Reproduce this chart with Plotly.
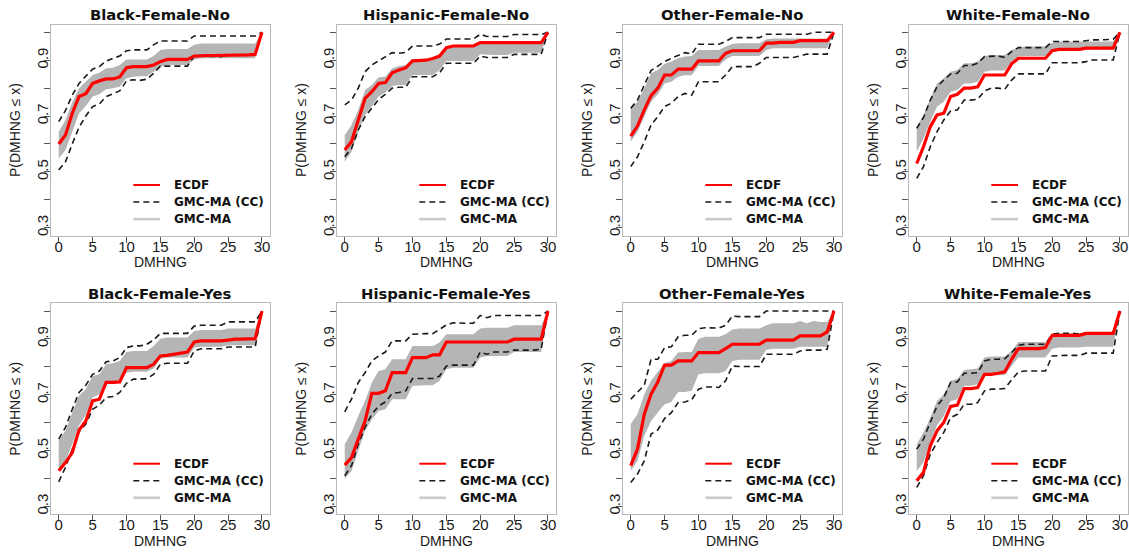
import plotly.graph_objects as go
from plotly.subplots import make_subplots

# DMHNG support: 0..30 days
DMHNG = list(range(31))

# ---------------- Black-Female-No ----------------
BLACK_NO_ECDF = [0.600, 0.632, 0.710, 0.770, 0.780, 0.817, 0.826, 0.833, 0.833, 0.840,
                 0.873, 0.877, 0.877, 0.877, 0.883, 0.895, 0.903, 0.903, 0.903, 0.903,
                 0.915, 0.917, 0.917, 0.917, 0.917, 0.919, 0.919, 0.919, 0.919, 0.921, 1.0]
BLACK_NO_CC_HI = [0.680, 0.720, 0.775, 0.817, 0.843, 0.868, 0.877, 0.897, 0.907, 0.915,
                  0.934, 0.937, 0.937, 0.937, 0.955, 0.969, 0.969, 0.969, 0.969, 0.969,
                  0.987, 0.987, 0.987, 0.987, 0.987, 0.987, 0.987, 0.987, 0.987, 0.987, 1.0]
BLACK_NO_CC_LO = [0.507, 0.536, 0.600, 0.660, 0.700, 0.734, 0.743, 0.770, 0.780, 0.790,
                  0.826, 0.830, 0.828, 0.832, 0.853, 0.879, 0.879, 0.879, 0.879, 0.879,
                  0.915, 0.915, 0.915, 0.915, 0.913, 0.919, 0.919, 0.919, 0.919, 0.919, 1.0]
BLACK_NO_MA_HI = [0.644, 0.686, 0.750, 0.800, 0.823, 0.847, 0.855, 0.871, 0.873, 0.883,
                  0.903, 0.903, 0.903, 0.903, 0.915, 0.937, 0.940, 0.940, 0.940, 0.940,
                  0.955, 0.960, 0.960, 0.960, 0.960, 0.960, 0.960, 0.960, 0.960, 0.960, 1.0]
BLACK_NO_MA_LO = [0.548, 0.578, 0.644, 0.710, 0.736, 0.770, 0.778, 0.796, 0.800, 0.805,
                  0.835, 0.841, 0.843, 0.843, 0.859, 0.877, 0.883, 0.883, 0.883, 0.883,
                  0.903, 0.907, 0.907, 0.907, 0.907, 0.907, 0.907, 0.907, 0.907, 0.907, 1.0]

# ---------------- Hispanic-Female-No ----------------
HISP_NO_ECDF = [0.578, 0.608, 0.686, 0.763, 0.787, 0.817, 0.820, 0.855, 0.865, 0.873,
                0.898, 0.898, 0.900, 0.906, 0.915, 0.945, 0.951, 0.951, 0.951, 0.951,
                0.963, 0.963, 0.963, 0.963, 0.963, 0.963, 0.963, 0.963, 0.963, 0.963, 1.0]
HISP_NO_CC_HI = [0.740, 0.757, 0.800, 0.859, 0.883, 0.897, 0.910, 0.927, 0.925, 0.928,
                 0.951, 0.951, 0.951, 0.951, 0.958, 0.976, 0.976, 0.976, 0.976, 0.976,
                 0.993, 0.985, 0.985, 0.985, 0.985, 0.992, 0.992, 0.992, 0.992, 0.992, 1.0]
HISP_NO_CC_LO = [0.554, 0.584, 0.650, 0.698, 0.728, 0.760, 0.778, 0.800, 0.803, 0.803,
                 0.841, 0.841, 0.841, 0.841, 0.855, 0.889, 0.889, 0.889, 0.889, 0.889,
                 0.915, 0.910, 0.910, 0.910, 0.910, 0.921, 0.921, 0.921, 0.921, 0.921, 1.0]
HISP_NO_MA_HI = [0.632, 0.668, 0.722, 0.793, 0.811, 0.839, 0.841, 0.871, 0.879, 0.883,
                 0.903, 0.903, 0.903, 0.903, 0.919, 0.949, 0.955, 0.955, 0.955, 0.955,
                 0.967, 0.967, 0.967, 0.967, 0.967, 0.967, 0.967, 0.967, 0.967, 0.967, 1.0]
HISP_NO_MA_LO = [0.536, 0.572, 0.644, 0.704, 0.734, 0.770, 0.784, 0.808, 0.811, 0.811,
                 0.847, 0.847, 0.847, 0.847, 0.865, 0.897, 0.897, 0.897, 0.897, 0.897,
                 0.921, 0.919, 0.919, 0.919, 0.919, 0.927, 0.927, 0.927, 0.927, 0.927, 1.0]

# ---------------- Other-Female-No ----------------
OTHER_NO_ECDF = [0.628, 0.664, 0.722, 0.773, 0.800, 0.847, 0.847, 0.868, 0.868, 0.868,
                 0.898, 0.898, 0.898, 0.898, 0.925, 0.934, 0.934, 0.934, 0.934, 0.934,
                 0.961, 0.961, 0.964, 0.964, 0.964, 0.970, 0.970, 0.970, 0.970, 0.970, 1.0]
OTHER_NO_CC_HI = [0.728, 0.757, 0.811, 0.863, 0.879, 0.895, 0.907, 0.916, 0.927, 0.922,
                  0.957, 0.957, 0.957, 0.957, 0.967, 0.981, 0.981, 0.981, 0.981, 0.981,
                  0.993, 0.993, 0.993, 0.993, 0.993, 0.993, 0.993, 1.000, 1.000, 1.000, 1.0]
OTHER_NO_CC_LO = [0.519, 0.554, 0.608, 0.668, 0.698, 0.734, 0.746, 0.770, 0.781, 0.775,
                  0.823, 0.823, 0.823, 0.823, 0.847, 0.877, 0.877, 0.877, 0.877, 0.889,
                  0.910, 0.910, 0.910, 0.910, 0.910, 0.915, 0.922, 0.922, 0.922, 0.922, 1.0]
OTHER_NO_MA_HI = [0.728, 0.751, 0.800, 0.853, 0.865, 0.887, 0.895, 0.907, 0.913, 0.915,
                  0.937, 0.937, 0.937, 0.937, 0.949, 0.958, 0.961, 0.961, 0.961, 0.961,
                  0.975, 0.978, 0.978, 0.978, 0.978, 0.978, 0.978, 0.978, 0.978, 0.978, 1.0]
OTHER_NO_MA_LO = [0.608, 0.644, 0.698, 0.751, 0.778, 0.817, 0.823, 0.841, 0.846, 0.846,
                  0.879, 0.879, 0.879, 0.879, 0.903, 0.915, 0.915, 0.915, 0.915, 0.915,
                  0.937, 0.943, 0.943, 0.943, 0.943, 0.943, 0.943, 0.943, 0.943, 0.943, 1.0]

# ---------------- White-Female-No ----------------
WHITE_NO_ECDF = [0.530, 0.590, 0.662, 0.704, 0.710, 0.770, 0.778, 0.800, 0.800, 0.805,
                 0.847, 0.847, 0.847, 0.847, 0.887, 0.907, 0.907, 0.907, 0.907, 0.907,
                 0.934, 0.939, 0.939, 0.939, 0.939, 0.943, 0.943, 0.943, 0.943, 0.943, 1.0]
WHITE_NO_CC_HI = [0.656, 0.695, 0.757, 0.805, 0.829, 0.851, 0.853, 0.881, 0.881, 0.889,
                  0.913, 0.915, 0.915, 0.910, 0.931, 0.945, 0.945, 0.945, 0.945, 0.945,
                  0.967, 0.967, 0.967, 0.967, 0.967, 0.970, 0.973, 0.973, 0.973, 0.975, 1.0]
WHITE_NO_CC_LO = [0.477, 0.519, 0.590, 0.644, 0.686, 0.718, 0.722, 0.757, 0.757, 0.760,
                  0.790, 0.800, 0.800, 0.796, 0.829, 0.851, 0.851, 0.851, 0.851, 0.851,
                  0.891, 0.891, 0.891, 0.891, 0.891, 0.895, 0.901, 0.901, 0.901, 0.901, 1.0]
WHITE_NO_MA_HI = [0.662, 0.704, 0.763, 0.817, 0.835, 0.859, 0.865, 0.889, 0.889, 0.895,
                  0.915, 0.919, 0.919, 0.919, 0.937, 0.945, 0.949, 0.949, 0.949, 0.949,
                  0.963, 0.967, 0.967, 0.967, 0.967, 0.967, 0.967, 0.967, 0.967, 0.967, 1.0]
WHITE_NO_MA_LO = [0.572, 0.620, 0.680, 0.734, 0.751, 0.787, 0.793, 0.817, 0.817, 0.823,
                  0.859, 0.863, 0.863, 0.863, 0.895, 0.913, 0.915, 0.915, 0.915, 0.915,
                  0.937, 0.939, 0.939, 0.939, 0.939, 0.939, 0.939, 0.939, 0.939, 0.939, 1.0]

# ---------------- Black-Female-Yes ----------------
BLACK_YES_ECDF = [0.428, 0.457, 0.493, 0.574, 0.606, 0.678, 0.684, 0.744, 0.744, 0.746,
                  0.797, 0.797, 0.797, 0.797, 0.809, 0.839, 0.841, 0.845, 0.849, 0.853,
                  0.889, 0.893, 0.893, 0.893, 0.893, 0.896, 0.899, 0.899, 0.899, 0.901, 1.0]
BLACK_YES_CC_HI = [0.541, 0.583, 0.648, 0.708, 0.734, 0.773, 0.785, 0.818, 0.821, 0.833,
                   0.869, 0.875, 0.875, 0.881, 0.896, 0.920, 0.920, 0.920, 0.920, 0.920,
                   0.946, 0.949, 0.949, 0.949, 0.949, 0.961, 0.961, 0.961, 0.961, 0.961, 1.0]
BLACK_YES_CC_LO = [0.388, 0.440, 0.505, 0.567, 0.595, 0.648, 0.663, 0.690, 0.694, 0.708,
                   0.741, 0.756, 0.756, 0.758, 0.773, 0.809, 0.813, 0.813, 0.813, 0.813,
                   0.857, 0.865, 0.865, 0.865, 0.865, 0.871, 0.871, 0.871, 0.871, 0.871, 1.0]
BLACK_YES_MA_HI = [0.535, 0.571, 0.636, 0.696, 0.720, 0.767, 0.773, 0.809, 0.813, 0.821,
                   0.853, 0.857, 0.857, 0.857, 0.875, 0.901, 0.905, 0.905, 0.905, 0.905,
                   0.928, 0.932, 0.932, 0.932, 0.932, 0.937, 0.937, 0.937, 0.937, 0.937, 1.0]
BLACK_YES_MA_LO = [0.434, 0.463, 0.523, 0.591, 0.627, 0.690, 0.702, 0.741, 0.744, 0.753,
                   0.779, 0.782, 0.782, 0.782, 0.794, 0.829, 0.833, 0.833, 0.833, 0.833,
                   0.869, 0.872, 0.872, 0.872, 0.872, 0.877, 0.877, 0.877, 0.877, 0.877, 1.0]

# ---------------- Hispanic-Female-Yes ----------------
HISP_YES_ECDF = [0.448, 0.475, 0.541, 0.606, 0.705, 0.705, 0.714, 0.779, 0.779, 0.779,
                 0.833, 0.833, 0.833, 0.843, 0.843, 0.889, 0.889, 0.889, 0.889, 0.889,
                 0.889, 0.889, 0.889, 0.889, 0.889, 0.899, 0.899, 0.899, 0.899, 0.899, 1.0]
HISP_YES_CC_HI = [0.639, 0.684, 0.744, 0.779, 0.821, 0.839, 0.853, 0.893, 0.893, 0.893,
                  0.917, 0.919, 0.919, 0.919, 0.934, 0.950, 0.958, 0.956, 0.956, 0.956,
                  0.984, 0.976, 0.984, 0.984, 0.984, 0.984, 0.984, 0.984, 0.984, 0.984, 1.0]
HISP_YES_CC_LO = [0.410, 0.446, 0.523, 0.583, 0.630, 0.660, 0.674, 0.705, 0.708, 0.714,
                  0.758, 0.758, 0.758, 0.758, 0.767, 0.803, 0.806, 0.806, 0.806, 0.806,
                  0.853, 0.845, 0.853, 0.853, 0.853, 0.860, 0.860, 0.860, 0.860, 0.863, 1.0]
HISP_YES_MA_HI = [0.523, 0.565, 0.624, 0.678, 0.744, 0.785, 0.791, 0.827, 0.827, 0.827,
                  0.875, 0.875, 0.875, 0.875, 0.887, 0.917, 0.917, 0.917, 0.917, 0.917,
                  0.937, 0.940, 0.940, 0.940, 0.940, 0.949, 0.949, 0.949, 0.949, 0.949, 1.0]
HISP_YES_MA_LO = [0.398, 0.428, 0.499, 0.571, 0.612, 0.642, 0.648, 0.684, 0.684, 0.684,
                  0.732, 0.734, 0.734, 0.734, 0.750, 0.791, 0.797, 0.797, 0.797, 0.797,
                  0.833, 0.839, 0.839, 0.839, 0.839, 0.853, 0.853, 0.853, 0.853, 0.853, 1.0]

# ---------------- Other-Female-Yes ----------------
OTHER_YES_ECDF = [0.446, 0.505, 0.630, 0.702, 0.746, 0.806, 0.806, 0.821, 0.821, 0.821,
                  0.851, 0.851, 0.851, 0.851, 0.865, 0.881, 0.881, 0.881, 0.881, 0.881,
                  0.896, 0.896, 0.896, 0.896, 0.896, 0.911, 0.911, 0.911, 0.911, 0.925, 1.0]
OTHER_YES_CC_HI = [0.684, 0.708, 0.734, 0.827, 0.827, 0.869, 0.872, 0.908, 0.913, 0.913,
                   0.937, 0.940, 0.939, 0.939, 0.949, 0.982, 0.980, 0.980, 0.980, 0.980,
                   1.000, 1.000, 1.000, 1.000, 1.000, 1.000, 1.000, 1.000, 1.000, 1.000, 1.0]
OTHER_YES_CC_LO = [0.386, 0.416, 0.463, 0.559, 0.574, 0.615, 0.636, 0.672, 0.674, 0.682,
                   0.720, 0.728, 0.728, 0.726, 0.750, 0.803, 0.801, 0.801, 0.801, 0.801,
                   0.845, 0.845, 0.845, 0.845, 0.845, 0.857, 0.860, 0.860, 0.860, 0.863, 1.0]
OTHER_YES_MA_HI = [0.595, 0.630, 0.702, 0.750, 0.782, 0.813, 0.821, 0.851, 0.853, 0.853,
                   0.901, 0.908, 0.908, 0.908, 0.917, 0.934, 0.937, 0.937, 0.937, 0.937,
                   0.949, 0.956, 0.956, 0.956, 0.956, 0.964, 0.956, 0.964, 0.961, 0.961, 1.0]
OTHER_YES_MA_LO = [0.428, 0.463, 0.553, 0.606, 0.636, 0.666, 0.674, 0.710, 0.710, 0.714,
                   0.773, 0.777, 0.777, 0.777, 0.785, 0.821, 0.825, 0.825, 0.825, 0.825,
                   0.860, 0.865, 0.865, 0.865, 0.865, 0.872, 0.872, 0.872, 0.872, 0.872, 1.0]

# ---------------- White-Female-Yes ----------------
WHITE_YES_ECDF = [0.392, 0.422, 0.517, 0.571, 0.601, 0.658, 0.663, 0.722, 0.722, 0.726,
                  0.773, 0.773, 0.777, 0.782, 0.827, 0.865, 0.865, 0.865, 0.865, 0.869,
                  0.913, 0.913, 0.913, 0.913, 0.913, 0.920, 0.920, 0.920, 0.920, 0.920, 1.0]
WHITE_YES_CC_HI = [0.505, 0.541, 0.601, 0.660, 0.690, 0.744, 0.746, 0.777, 0.777, 0.779,
                   0.821, 0.827, 0.827, 0.829, 0.851, 0.877, 0.881, 0.881, 0.881, 0.881,
                   0.917, 0.920, 0.920, 0.920, 0.917, 0.922, 0.922, 0.922, 0.922, 0.922, 1.0]
WHITE_YES_CC_LO = [0.368, 0.410, 0.487, 0.529, 0.565, 0.618, 0.630, 0.666, 0.666, 0.672,
                   0.714, 0.720, 0.720, 0.722, 0.753, 0.782, 0.785, 0.785, 0.785, 0.785,
                   0.839, 0.841, 0.841, 0.841, 0.841, 0.849, 0.849, 0.849, 0.849, 0.849, 1.0]
WHITE_YES_MA_HI = [0.523, 0.565, 0.618, 0.678, 0.702, 0.750, 0.756, 0.789, 0.791, 0.794,
                   0.833, 0.837, 0.837, 0.837, 0.857, 0.889, 0.889, 0.889, 0.889, 0.889,
                   0.917, 0.920, 0.920, 0.920, 0.920, 0.920, 0.920, 0.920, 0.920, 0.920, 1.0]
WHITE_YES_MA_LO = [0.428, 0.457, 0.529, 0.591, 0.624, 0.678, 0.684, 0.732, 0.732, 0.738,
                   0.767, 0.770, 0.770, 0.770, 0.803, 0.833, 0.833, 0.833, 0.833, 0.833,
                   0.865, 0.869, 0.869, 0.869, 0.869, 0.872, 0.872, 0.872, 0.872, 0.872, 1.0]

TITLES = ["Black-Female-No", "Hispanic-Female-No", "Other-Female-No", "White-Female-No",
          "Black-Female-Yes", "Hispanic-Female-Yes", "Other-Female-Yes", "White-Female-Yes"]

PANELS = [
    (BLACK_NO_ECDF, BLACK_NO_CC_LO, BLACK_NO_CC_HI, BLACK_NO_MA_LO, BLACK_NO_MA_HI),
    (HISP_NO_ECDF, HISP_NO_CC_LO, HISP_NO_CC_HI, HISP_NO_MA_LO, HISP_NO_MA_HI),
    (OTHER_NO_ECDF, OTHER_NO_CC_LO, OTHER_NO_CC_HI, OTHER_NO_MA_LO, OTHER_NO_MA_HI),
    (WHITE_NO_ECDF, WHITE_NO_CC_LO, WHITE_NO_CC_HI, WHITE_NO_MA_LO, WHITE_NO_MA_HI),
    (BLACK_YES_ECDF, BLACK_YES_CC_LO, BLACK_YES_CC_HI, BLACK_YES_MA_LO, BLACK_YES_MA_HI),
    (HISP_YES_ECDF, HISP_YES_CC_LO, HISP_YES_CC_HI, HISP_YES_MA_LO, HISP_YES_MA_HI),
    (OTHER_YES_ECDF, OTHER_YES_CC_LO, OTHER_YES_CC_HI, OTHER_YES_MA_LO, OTHER_YES_MA_HI),
    (WHITE_YES_ECDF, WHITE_YES_CC_LO, WHITE_YES_CC_HI, WHITE_YES_MA_LO, WHITE_YES_MA_HI),
]

LEGEND_NAMES = ["ECDF", "GMC-MA (CC)", "GMC-MA"]
Y_TICKS = [0.3, 0.4, 0.5, 0.6, 0.7, 0.8, 0.9, 1.0]
Y_TICK_TEXT = ["0.3", "", "0.5", "", "0.7", "", "0.9", ""]
X_TICKS = [0, 5, 10, 15, 20, 25, 30]

# ---------------- page geometry (pixels) ----------------
W, H = 1129, 552
COL_LEFT = [50.6, 336.6, 622.6, 908.6]
PLOT_W = 219.5
ROW_TOP = [24.5, 303.2]
PLOT_H = 211.0
# legend key placement relative to each plot's top-left corner
KEY_X0, KEY_X1, KEY_TEXT_X = 82.7, 109.4, 121.0
KEY_ROWS = [160.5, 177.5, 194.6]

RED = "#FF0000"
DASH_COLOR = "#1A1A1A"
BAND = "#B5B5B5"
BAND_KEY = "#C9C9C9"
BOX = "#B8B8B8"
TICK = "#555555"
SANS = "Liberation Sans, Arial, sans-serif"
BOLD_SANS = "DejaVu Sans, Liberation Sans, sans-serif"

fig = make_subplots(rows=2, cols=4)

for k, (ecdf, cc_lo, cc_hi, ma_lo, ma_hi) in enumerate(PANELS):
    r, c = k // 4 + 1, k % 4 + 1
    # GMC-MA band
    fig.add_trace(go.Scatter(x=DMHNG, y=ma_lo, mode="lines", line=dict(width=0, color=BAND),
                             name="GMC-MA", showlegend=False, hoverinfo="skip"), row=r, col=c)
    fig.add_trace(go.Scatter(x=DMHNG, y=ma_hi, mode="lines", line=dict(width=0, color=BAND),
                             fill="tonexty", fillcolor=BAND, name="GMC-MA", showlegend=False,
                             hoverinfo="skip"), row=r, col=c)
    # GMC-MA (CC) bounds
    for bound in (cc_lo, cc_hi):
        fig.add_trace(go.Scatter(x=DMHNG, y=bound, mode="lines", name="GMC-MA (CC)",
                                 line=dict(color=DASH_COLOR, width=1.6, dash="6px,4px"),
                                 showlegend=False), row=r, col=c)
    # ECDF
    fig.add_trace(go.Scatter(x=DMHNG, y=ecdf, mode="lines", name="ECDF",
                             line=dict(color=RED, width=3.2), showlegend=False), row=r, col=c)

axis_common = dict(ticks="outside", ticklen=6, tickcolor=TICK, tickwidth=1,
                   showline=True, mirror=True, linecolor=BOX, linewidth=1,
                   showgrid=False, zeroline=False,
                   tickfont=dict(family=SANS, size=15, color="#1A1A1A"))

layout = dict(width=W, height=H, margin=dict(l=0, r=0, t=0, b=0),
              paper_bgcolor="white", plot_bgcolor="white", showlegend=False)
annotations = []
shapes = []
key_styles = [dict(color=RED, width=2), dict(color=DASH_COLOR, width=1.6, dash="6px,4px"),
              dict(color=BAND_KEY, width=2.6)]
for k in range(8):
    r, c = k // 4, k % 4
    left, top = COL_LEFT[c], ROW_TOP[r]
    x0, x1 = left / W, (left + PLOT_W) / W
    y1, y0 = 1 - top / H, 1 - (top + PLOT_H) / H
    sfx = "" if k == 0 else str(k + 1)
    layout["xaxis" + sfx] = dict(domain=[x0, x1], range=[-1.2, 31.2], tickvals=X_TICKS,
                                 ticklabelstandoff=-9, **axis_common)
    layout["yaxis" + sfx] = dict(domain=[y0, y1], range=[0.272, 1.028], tickvals=Y_TICKS,
                                 ticktext=Y_TICK_TEXT, tickangle=-90, ticklabelstandoff=-10,
                                 **axis_common)
    cx = (left + PLOT_W / 2) / W
    annotations.append(dict(text=TITLES[k], x=cx, y=1 - (top - 10) / H, xref="paper",
                            yref="paper", xanchor="center", yanchor="middle", showarrow=False,
                            font=dict(family=BOLD_SANS, size=14.8, color="#111111",
                                      weight="bold")))
    annotations.append(dict(text="DMHNG", x=cx, y=1 - (top + PLOT_H + 26.5) / H, xref="paper",
                            yref="paper", xanchor="center", yanchor="middle", showarrow=False,
                            font=dict(family=SANS, size=14, color="#1A1A1A")))
    annotations.append(dict(text="P(DMHNG ≤ x)", x=(left - 35.5) / W,
                            y=1 - (top + PLOT_H / 2) / H, xref="paper", yref="paper",
                            xanchor="center", yanchor="middle", textangle=-90,
                            showarrow=False, font=dict(family=SANS, size=14, color="#1A1A1A")))
    # legend keys: short line sample plus bold label
    for name, style, dy in zip(LEGEND_NAMES, key_styles, KEY_ROWS):
        ky = 1 - (top + dy) / H
        shapes.append(dict(type="line", xref="paper", yref="paper",
                           x0=(left + KEY_X0) / W, x1=(left + KEY_X1) / W, y0=ky, y1=ky,
                           line=style))
        annotations.append(dict(text=name, x=(left + KEY_TEXT_X) / W, y=ky, xref="paper",
                                yref="paper", xanchor="left", yanchor="middle",
                                showarrow=False,
                                font=dict(family=BOLD_SANS, size=12, color="#111111",
                                          weight="bold")))
layout["annotations"] = annotations
layout["shapes"] = shapes
fig.update_layout(**layout)

fig.write_html("out.html")
